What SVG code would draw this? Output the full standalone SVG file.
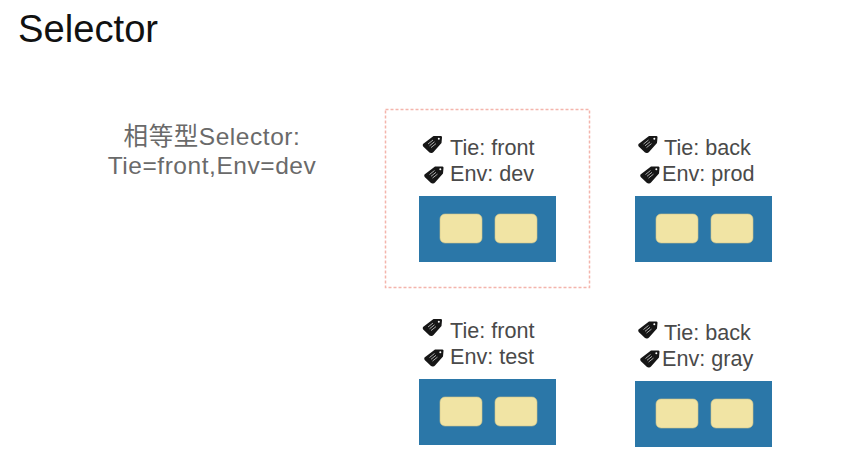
<svg xmlns="http://www.w3.org/2000/svg" xmlns:xlink="http://www.w3.org/1999/xlink" width="842" height="475" viewBox="0 0 842 475">
<style>
text{font-family:"Liberation Sans","Noto Sans CJK SC",sans-serif;fill:#4a4a4a}
.t{font-size:21.6px}
.h{font-size:24.5px;letter-spacing:.55px;fill:#6a6a6a}
.pod{fill:#2b77a8}
.c{fill:#f1e4a4;stroke:#cfc48a;stroke-width:.6}
</style>
<defs>
<g id="tag">
<path d="M-9.500-.5L1-8.500L8.500-8.500Q9.800-8.500 9.500-7L9-1.500L1 7.500Q0 8.800-1.500 8.500L-3 8L-9.300 2Q-10.200 .8-9.500-.5Z" fill="#161616"/>
<circle cx="6.300" cy="-5.700" r="1" fill="#fff"/>
<path d="M-4.500-.5L.5-4.500M-3 1.300L2-2.700M-1.500 3.100L3.500-.9" stroke="#aaa" stroke-width="1" fill="none"/>
</g>
<g id="box">
<rect class="pod" width="137" height="66"/>
<rect class="c" x="21" y="18" width="42" height="29" rx="5"/>
<rect class="c" x="76" y="18" width="42" height="29" rx="5"/>
</g>
</defs>
<rect width="842" height="475" fill="#fff"/>
<text x="18" y="42" style="font-size:38.200px;fill:#111">Selector</text>
<text id="selector-label" class="h" text-anchor="middle"><tspan x="212" y="145">相等型Selector:</tspan><tspan x="212" y="174">Tie=front,Env=dev</tspan></text>
<g id="connectors"/>
<rect id="highlight" x="385.500" y="109.500" width="204" height="178" fill="none" stroke="#f4b5ac" stroke-width="1.500" stroke-dasharray="3 2"/>
<g id="node-front-dev">
<use xlink:href="#tag" href="#tag" x="432.500" y="144.500"/><use xlink:href="#tag" href="#tag" x="434" y="175"/>
<text class="t" x="450" y="155">Tie: front</text><text class="t" x="450" y="181">Env: dev</text>
<use xlink:href="#box" href="#box" x="419" y="196"/>
</g>
<g id="node-back-prod">
<use xlink:href="#tag" href="#tag" x="648" y="144.500"/><use xlink:href="#tag" href="#tag" x="650" y="175"/>
<text class="t" x="664" y="155">Tie: back</text><text class="t" x="662" y="181">Env: prod</text>
<use xlink:href="#box" href="#box" x="635" y="196"/>
</g>
<g id="node-front-test">
<use xlink:href="#tag" href="#tag" x="432.500" y="327.500"/><use xlink:href="#tag" href="#tag" x="434" y="358"/>
<text class="t" x="450" y="338">Tie: front</text><text class="t" x="450" y="364">Env: test</text>
<use xlink:href="#box" href="#box" x="419" y="379"/>
</g>
<g id="node-back-gray">
<use xlink:href="#tag" href="#tag" x="648" y="330"/><use xlink:href="#tag" href="#tag" x="650" y="359"/>
<text class="t" x="664" y="340">Tie: back</text><text class="t" x="662" y="366">Env: gray</text>
<use xlink:href="#box" href="#box" x="635" y="381"/>
</g>
</svg>
